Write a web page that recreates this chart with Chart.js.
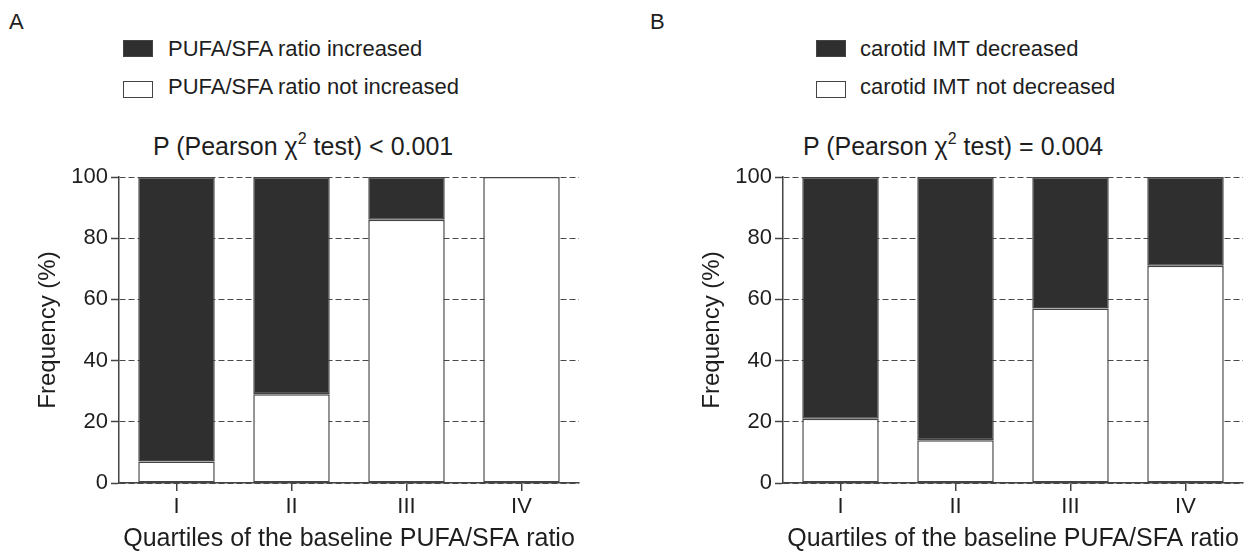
<!DOCTYPE html>
<html>
<head>
<meta charset="utf-8">
<script src="https://cdn.jsdelivr.net/npm/chart.js@4/dist/chart.umd.min.js"></script>
<style>
  html, body { margin: 0; padding: 0; background: #fff; }
  body { width: 1249px; height: 553px; position: relative; overflow: hidden;
         font-family: "Liberation Sans", Arial, sans-serif; color: #1e1e1e; }
  .abs { position: absolute; line-height: 1; white-space: nowrap; }
  .letter { font-size: 22px; }
  .leg { font-size: 22px; }
  .box { position: absolute; box-sizing: border-box; width: 30px; height: 17px; border: 1.5px solid #444; }
  .ttl { font-size: 25px; }
  .ttl sup { font-size: 0.64em; vertical-align: 0.66em; line-height: 0; }
  .wrap { position: absolute; top: 160px; height: 393px; }
</style>
</head>
<body>

<div class="abs letter" style="left:9px; top:11px;">A</div>
<div class="abs letter" style="left:650px; top:11px;">B</div>

<div id="legA"></div>
<div id="legB"></div>

<div class="abs ttl" style="left:153px; top:134px;">P (Pearson &chi;<sup>2</sup> test) &lt; 0.001</div>
<div class="abs ttl" style="left:803px; top:134px;">P (Pearson &chi;<sup>2</sup> test) = 0.004</div>

<div class="wrap" style="left:0px; width:620px;"><canvas id="chartA"></canvas></div>
<div class="wrap" style="left:664px; width:585px;"><canvas id="chartB"></canvas></div>

<script>
'use strict';

const quartiles = ['I', 'II', 'III', 'IV'];
const yTicks = [0, 20, 40, 60, 80, 100];

// panel A
const pufaLabels = ['PUFA/SFA ratio increased', 'PUFA/SFA ratio not increased'];
const pufaIncreased = [93, 71, 14, 0];
const pufaNotIncreased = [7, 29, 86, 100];

// panel B
const imtLabels = ['carotid IMT decreased', 'carotid IMT not decreased'];
const imtDecreased = [79, 86, 43, 29];
const imtNotDecreased = [21, 14, 57, 71];

const xTitle = 'Quartiles of the baseline PUFA/SFA ratio';
const yTitle = 'Frequency (%)';

const DARK = '#302f30';
const LINE = '#444';
const TEXT = '#1e1e1e';
const FONT = '"Liberation Sans", Arial, sans-serif';

// simple html legend, stacked vertically like the original
const makeLegend = (id, left, textLeft, labels) => {
  const el = document.getElementById(id);
  const fills = [DARK, '#fff'];
  labels.forEach((lab, i) => {
    const box = document.createElement('div');
    box.className = 'box';
    box.style.left = left + 'px';
    box.style.top = (40 + i * 41) + 'px';
    box.style.background = fills[i];
    el.appendChild(box);
    const txt = document.createElement('div');
    txt.className = 'abs leg';
    txt.style.left = textLeft + 'px';
    txt.style.top = (38 + i * 38) + 'px';
    txt.textContent = lab;
    el.appendChild(txt);
  });
};
makeLegend('legA', 123, 168, pufaLabels);
makeLegend('legB', 816, 860, imtLabels);

const buildConfig = (labels, topVals, bottomVals, rightPad) => ({
  type: 'bar',
  data: {
    labels: quartiles,
    datasets: [{
      label: labels[1],
      data: bottomVals,
      backgroundColor: '#fff',
      borderColor: LINE,
      borderWidth: 1.5,
      borderSkipped: false
    }, {
      label: labels[0],
      data: topVals,
      backgroundColor: DARK,
      borderColor: LINE,
      borderWidth: 1.5,
      borderSkipped: false
    }]
  },
  options: {
    animation: false,
    responsive: true,
    maintainAspectRatio: false,
    layout: { padding: { left: 0, right: rightPad, top: 17, bottom: 0 } },
    plugins: {
      legend: { display: false },
      tooltip: { enabled: false }
    },
    datasets: { bar: { categoryPercentage: 1, barPercentage: 0.665 } },
    scales: {
      x: {
        stacked: true,
        grid: {
          display: true,
          drawOnChartArea: false,
          drawTicks: true,
          tickLength: 8,
          offset: false,
          color: LINE,
          lineWidth: 1.5
        },
        border: { display: true, color: LINE, width: 1.5 },
        ticks: { color: TEXT, padding: 3, font: { family: FONT, size: 22 } },
        title: {
          display: true,
          text: xTitle,
          color: TEXT,
          font: { family: FONT, size: 25, lineHeight: 1 },
          padding: { top: 0, bottom: 1 }
        },
        afterFit(scale) { scale.height = 70; }
      },
      y: {
        stacked: true,
        min: 0,
        max: 100,
        afterBuildTicks(scale) { scale.ticks = yTicks.map(v => ({ value: v })); },
        grid: {
          color: '#4a4a4a',
          lineWidth: 1,
          tickLength: 8,
          tickColor: LINE,
          tickWidth: 1.5,
          tickBorderDash: []
        },
        border: { display: true, color: LINE, width: 1.5, dash: [6, 3] },
        ticks: { color: TEXT, padding: 3, font: { family: FONT, size: 22 } },
        title: {
          display: true,
          text: yTitle,
          color: TEXT,
          font: { family: FONT, size: 24, lineHeight: 1.2 },
          padding: { top: 34, bottom: 0 }
        },
        afterFit(scale) { scale.width = 119; }
      }
    }
  }
});

const chartA = new Chart(document.getElementById('chartA'),
  buildConfig(pufaLabels, pufaIncreased, pufaNotIncreased, 41));
const chartB = new Chart(document.getElementById('chartB'),
  buildConfig(imtLabels, imtDecreased, imtNotDecreased, 6));
</script>
</body>
</html>
